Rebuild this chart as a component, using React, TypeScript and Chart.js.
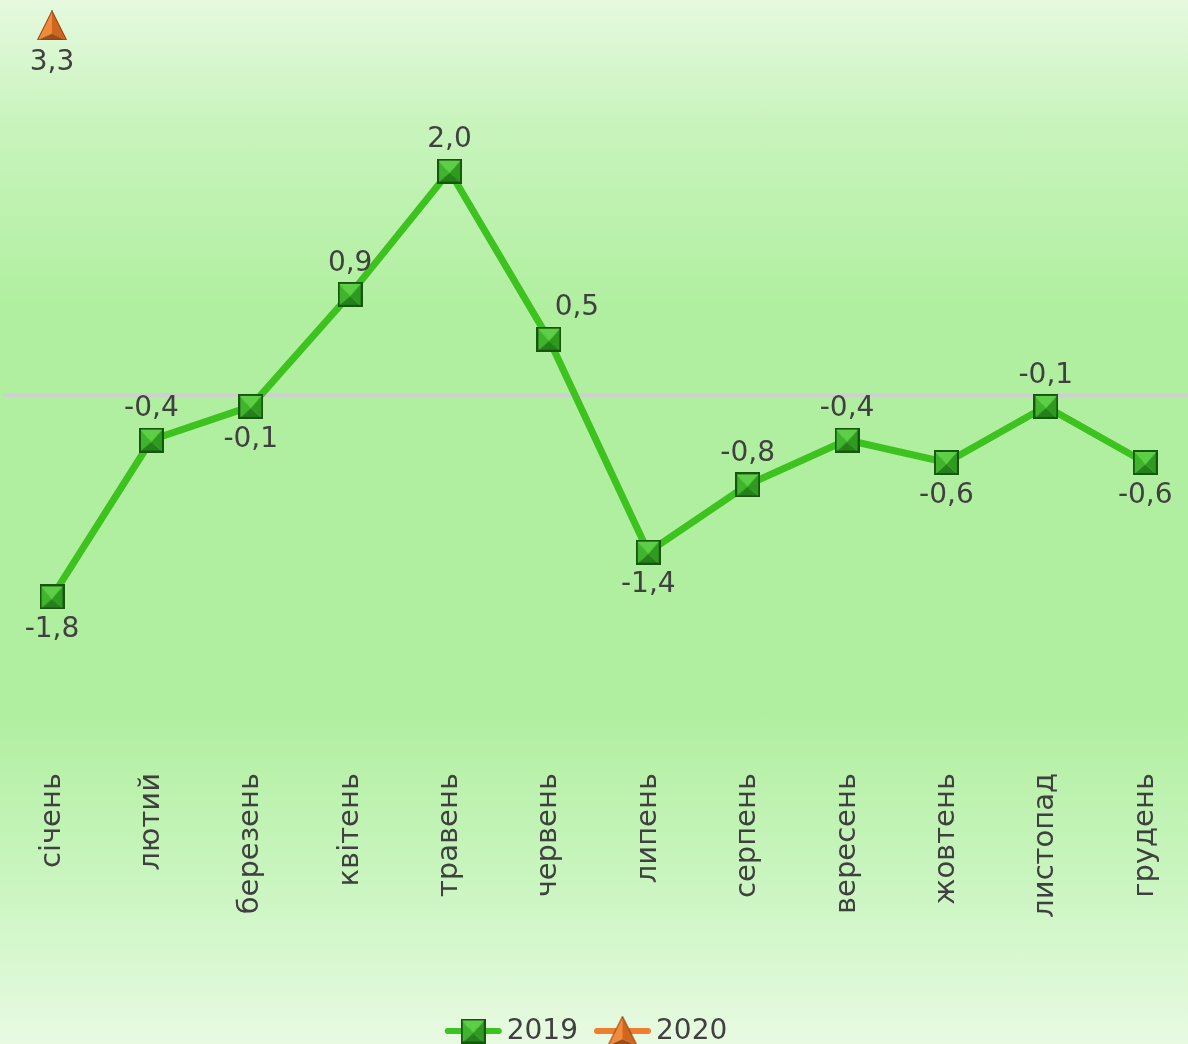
import React, { useEffect, useRef } from "react";
import { Chart, registerables } from "chart.js";
Chart.register(...registerables);

const months = ["січень", "лютий", "березень", "квітень", "травень", "червень", "липень", "серпень", "вересень", "жовтень", "листопад", "грудень"];
const values2019 = [-1.8, -0.4, -0.1, 0.9, 2.0, 0.5, -1.4, -0.8, -0.4, -0.6, -0.1, -0.6];
const values2020 = [3.3, null, null, null, null, null, null, null, null, null, null, null];
const labelPos2019 = ["below", "above", "below", "above", "above", "aboveRight", "below", "above", "above", "below", "above", "below"];
const labelPos2020 = ["below"];
const seriesNames = ["2019", "2020"];

const W = 1188;
const H = 1044;
const FONT = "'DejaVu Sans', Verdana, sans-serif";
const GREEN = "#3ec21f";
const ORANGE = "#ef7f30";

function makeSquare(): HTMLCanvasElement {
  const s = 25;
  const c = document.createElement("canvas");
  c.width = s;
  c.height = s;
  const g = c.getContext("2d")!;
  const m = s / 2;
  const face = (pts: number[][], col: string) => {
    g.beginPath();
    g.moveTo(pts[0][0], pts[0][1]);
    for (let i = 1; i < pts.length; i++) g.lineTo(pts[i][0], pts[i][1]);
    g.closePath();
    g.fillStyle = col;
    g.fill();
  };
  face([[0, 0], [s, 0], [m, m + 2]], "#5ccf46");
  face([[0, 0], [m, m + 2], [0, s]], "#3fb42c");
  face([[s, 0], [s, s], [m, m + 2]], "#2f9a20");
  face([[0, s], [m, m + 2], [s, s]], "#23801a");
  g.strokeStyle = "#17560f";
  g.lineWidth = 2;
  g.strokeRect(1, 1, s - 2, s - 2);
  return c;
}

function makeTriangle(): HTMLCanvasElement {
  const w = 30;
  const h = 30;
  const c = document.createElement("canvas");
  c.width = w;
  c.height = h;
  const g = c.getContext("2d")!;
  const cx = w / 2;
  const inner = [cx, h - 7];
  const face = (pts: number[][], col: string) => {
    g.beginPath();
    g.moveTo(pts[0][0], pts[0][1]);
    for (let i = 1; i < pts.length; i++) g.lineTo(pts[i][0], pts[i][1]);
    g.closePath();
    g.fillStyle = col;
    g.fill();
  };
  face([[cx, 0], [0, h], inner], "#f08a3c");
  face([[cx, 0], inner, [w, h]], "#d0661e");
  face([[0, h], inner, [w, h]], "#9c4c14");
  g.beginPath();
  g.moveTo(cx, 0.5);
  g.lineTo(0.5, h - 0.5);
  g.lineTo(w - 0.5, h - 0.5);
  g.closePath();
  g.strokeStyle = "#8a3e0c";
  g.lineWidth = 1;
  g.stroke();
  return c;
}

function fmt(v: number): string {
  return v.toFixed(1).replace(".", ",");
}

export default function App() {
  const ref = useRef<HTMLCanvasElement>(null);
  useEffect(() => {
    const sq = makeSquare();
    const tri = makeTriangle();
    const positions = [labelPos2019, labelPos2020];

    const zeroLine = {
      id: "zeroLine",
      beforeDatasetsDraw(chart: any) {
        const y = chart.scales.y.getPixelForValue(0);
        const ctx = chart.ctx;
        ctx.save();
        ctx.strokeStyle = "#cfcfcf";
        ctx.lineWidth = 4;
        ctx.beginPath();
        ctx.moveTo(3, y);
        ctx.lineTo(chart.width, y);
        ctx.stroke();
        ctx.restore();
      },
    };

    const dataLabels = {
      id: "dataLabelsCustom",
      afterDatasetsDraw(chart: any) {
        const ctx = chart.ctx;
        ctx.save();
        ctx.font = `28px ${FONT}`;
        ctx.fillStyle = "#404040";
        ctx.textAlign = "center";
        ctx.textBaseline = "middle";
        chart.data.datasets.forEach((ds: any, di: number) => {
          const meta = chart.getDatasetMeta(di);
          meta.data.forEach((pt: any, i: number) => {
            const v = ds.data[i];
            if (v === null || v === undefined) return;
            const pos = positions[di][i] || "above";
            let dx = 0;
            let dy = -31;
            if (pos === "below") dy = di === 1 ? 37 : 33;
            if (pos === "aboveRight") dx = 28;
            ctx.fillText(fmt(v), pt.x + dx, pt.y + dy);
          });
        });
        ctx.restore();
      },
    };

    const legendCustom = {
      id: "legendCustom",
      afterDraw(chart: any) {
        const ctx = chart.ctx;
        ctx.save();
        ctx.font = `28px ${FONT}`;
        ctx.textBaseline = "middle";
        ctx.textAlign = "left";
        const items = [
          { label: seriesNames[0], color: GREEN, img: sq },
          { label: seriesNames[1], color: ORANGE, img: tri },
        ];
        const lineLen = 57;
        const gap = 5;
        const itemGap = 16;
        const widths = items.map((it) => lineLen + gap + ctx.measureText(it.label).width);
        const total = widths.reduce((a, b) => a + b, 0) + itemGap;
        let x = chart.width / 2 - total / 2 - 8;
        const y = 1031;
        items.forEach((it, i) => {
          ctx.strokeStyle = it.color;
          ctx.lineWidth = 6;
          ctx.lineCap = "round";
          ctx.beginPath();
          ctx.moveTo(x + 3, y);
          ctx.lineTo(x + lineLen - 3, y);
          ctx.stroke();
          ctx.drawImage(it.img, x + lineLen / 2 - it.img.width / 2, y - it.img.height / 2);
          ctx.fillStyle = "#404040";
          ctx.fillText(it.label, x + lineLen + gap, y + 1);
          x += widths[i] + itemGap;
        });
        ctx.restore();
      },
    };

    const chart = new Chart(ref.current!, {
      type: "line",
      data: {
        labels: months,
        datasets: [
          {
            label: seriesNames[0],
            data: values2019,
            borderColor: GREEN,
            backgroundColor: GREEN,
            borderWidth: 7,
            pointStyle: sq as any,
            pointRadius: 12,
            tension: 0,
          },
          {
            label: seriesNames[1],
            data: values2020 as any,
            borderColor: ORANGE,
            backgroundColor: ORANGE,
            borderWidth: 7,
            pointStyle: tri as any,
            pointRadius: 15,
            tension: 0,
          },
        ],
      },
      options: {
        responsive: false,
        animation: false,
        layout: { autoPadding: false, padding: { left: 52, right: 42, top: 3, bottom: 0 } },
        plugins: {
          legend: { display: false },
          tooltip: { enabled: false },
        },
        scales: {
          x: {
            offset: false,
            grid: { display: false, drawTicks: false },
            border: { display: false },
            ticks: {
              autoSkip: false,
              minRotation: 90,
              maxRotation: 90,
              padding: 8,
              color: "#404040",
              font: { family: FONT, size: 29 },
            },
            afterFit: (s: any) => {
              s.height = 279;
            },
          },
          y: {
            display: false,
            min: -3.3,
            max: 3.5,
          },
        },
      },
      plugins: [zeroLine, dataLabels, legendCustom],
    });
    return () => chart.destroy();
  }, []);

  return (
    <div
      style={{
        position: "absolute",
        left: 0,
        top: 0,
        width: W,
        height: H,
        background: "linear-gradient(180deg, #e6f9df 0%, #c8f4bc 12%, #b0ef9f 30%, #b0ef9f 68%, #c9f5bf 84%, #e8fae2 100%)",
      }}
    >
      <canvas ref={ref} width={W} height={H} style={{ display: "block" }} />
    </div>
  );
}
